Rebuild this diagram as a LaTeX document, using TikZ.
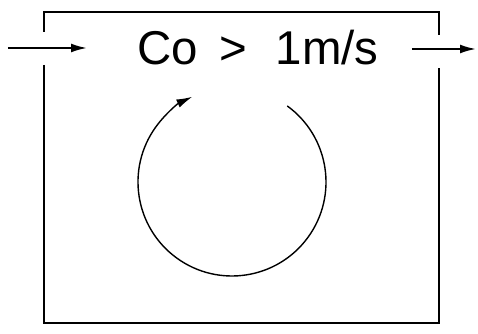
\documentclass[tikz,border=0pt]{standalone}
\usepackage{fontspec}
\setmainfont{Liberation Sans}
\usetikzlibrary{arrows.meta,positioning}

\begin{document}
\begin{tikzpicture}[
    x=0.02cm, y=0.02cm,
    wall/.style={line width=1.1pt},
    flow/.style={-{Latex[length=9pt,width=5pt]}, line width=1.1pt},
    swirl/.style={-{Latex[length=9pt,width=5pt]}, line width=0.8pt},
    label/.style={font=\fontsize{27}{30}\selectfont, inner sep=0pt}
]
    \useasboundingbox (0,0) rectangle (478,334);

    % vessel walls, open at inlet and outlet
    \draw[wall] (44,302) -- (44,322) -- (439,322) -- (439,299);
    \draw[wall] (44,269) -- (44,11) -- (439,11) -- (439,266);

    \node[label] (vel) at (258,286) {Co \,>\,\, 1m/s};

    \coordinate (inlet) at (8,286);
    \coordinate (inend) at (87,286);
    \coordinate (outstart) at (412,285);
    \coordinate (outlet) at (476,285);
    \coordinate (eddy) at (232,152);

    \draw[flow] (inlet) -- (inend);
    \draw[flow] (outstart) -- (outlet);

    % recirculation
    \draw[swirl] (eddy) ++(54:94) arc[start angle=54, end angle=-245, radius=94];
\end{tikzpicture}
\end{document}
